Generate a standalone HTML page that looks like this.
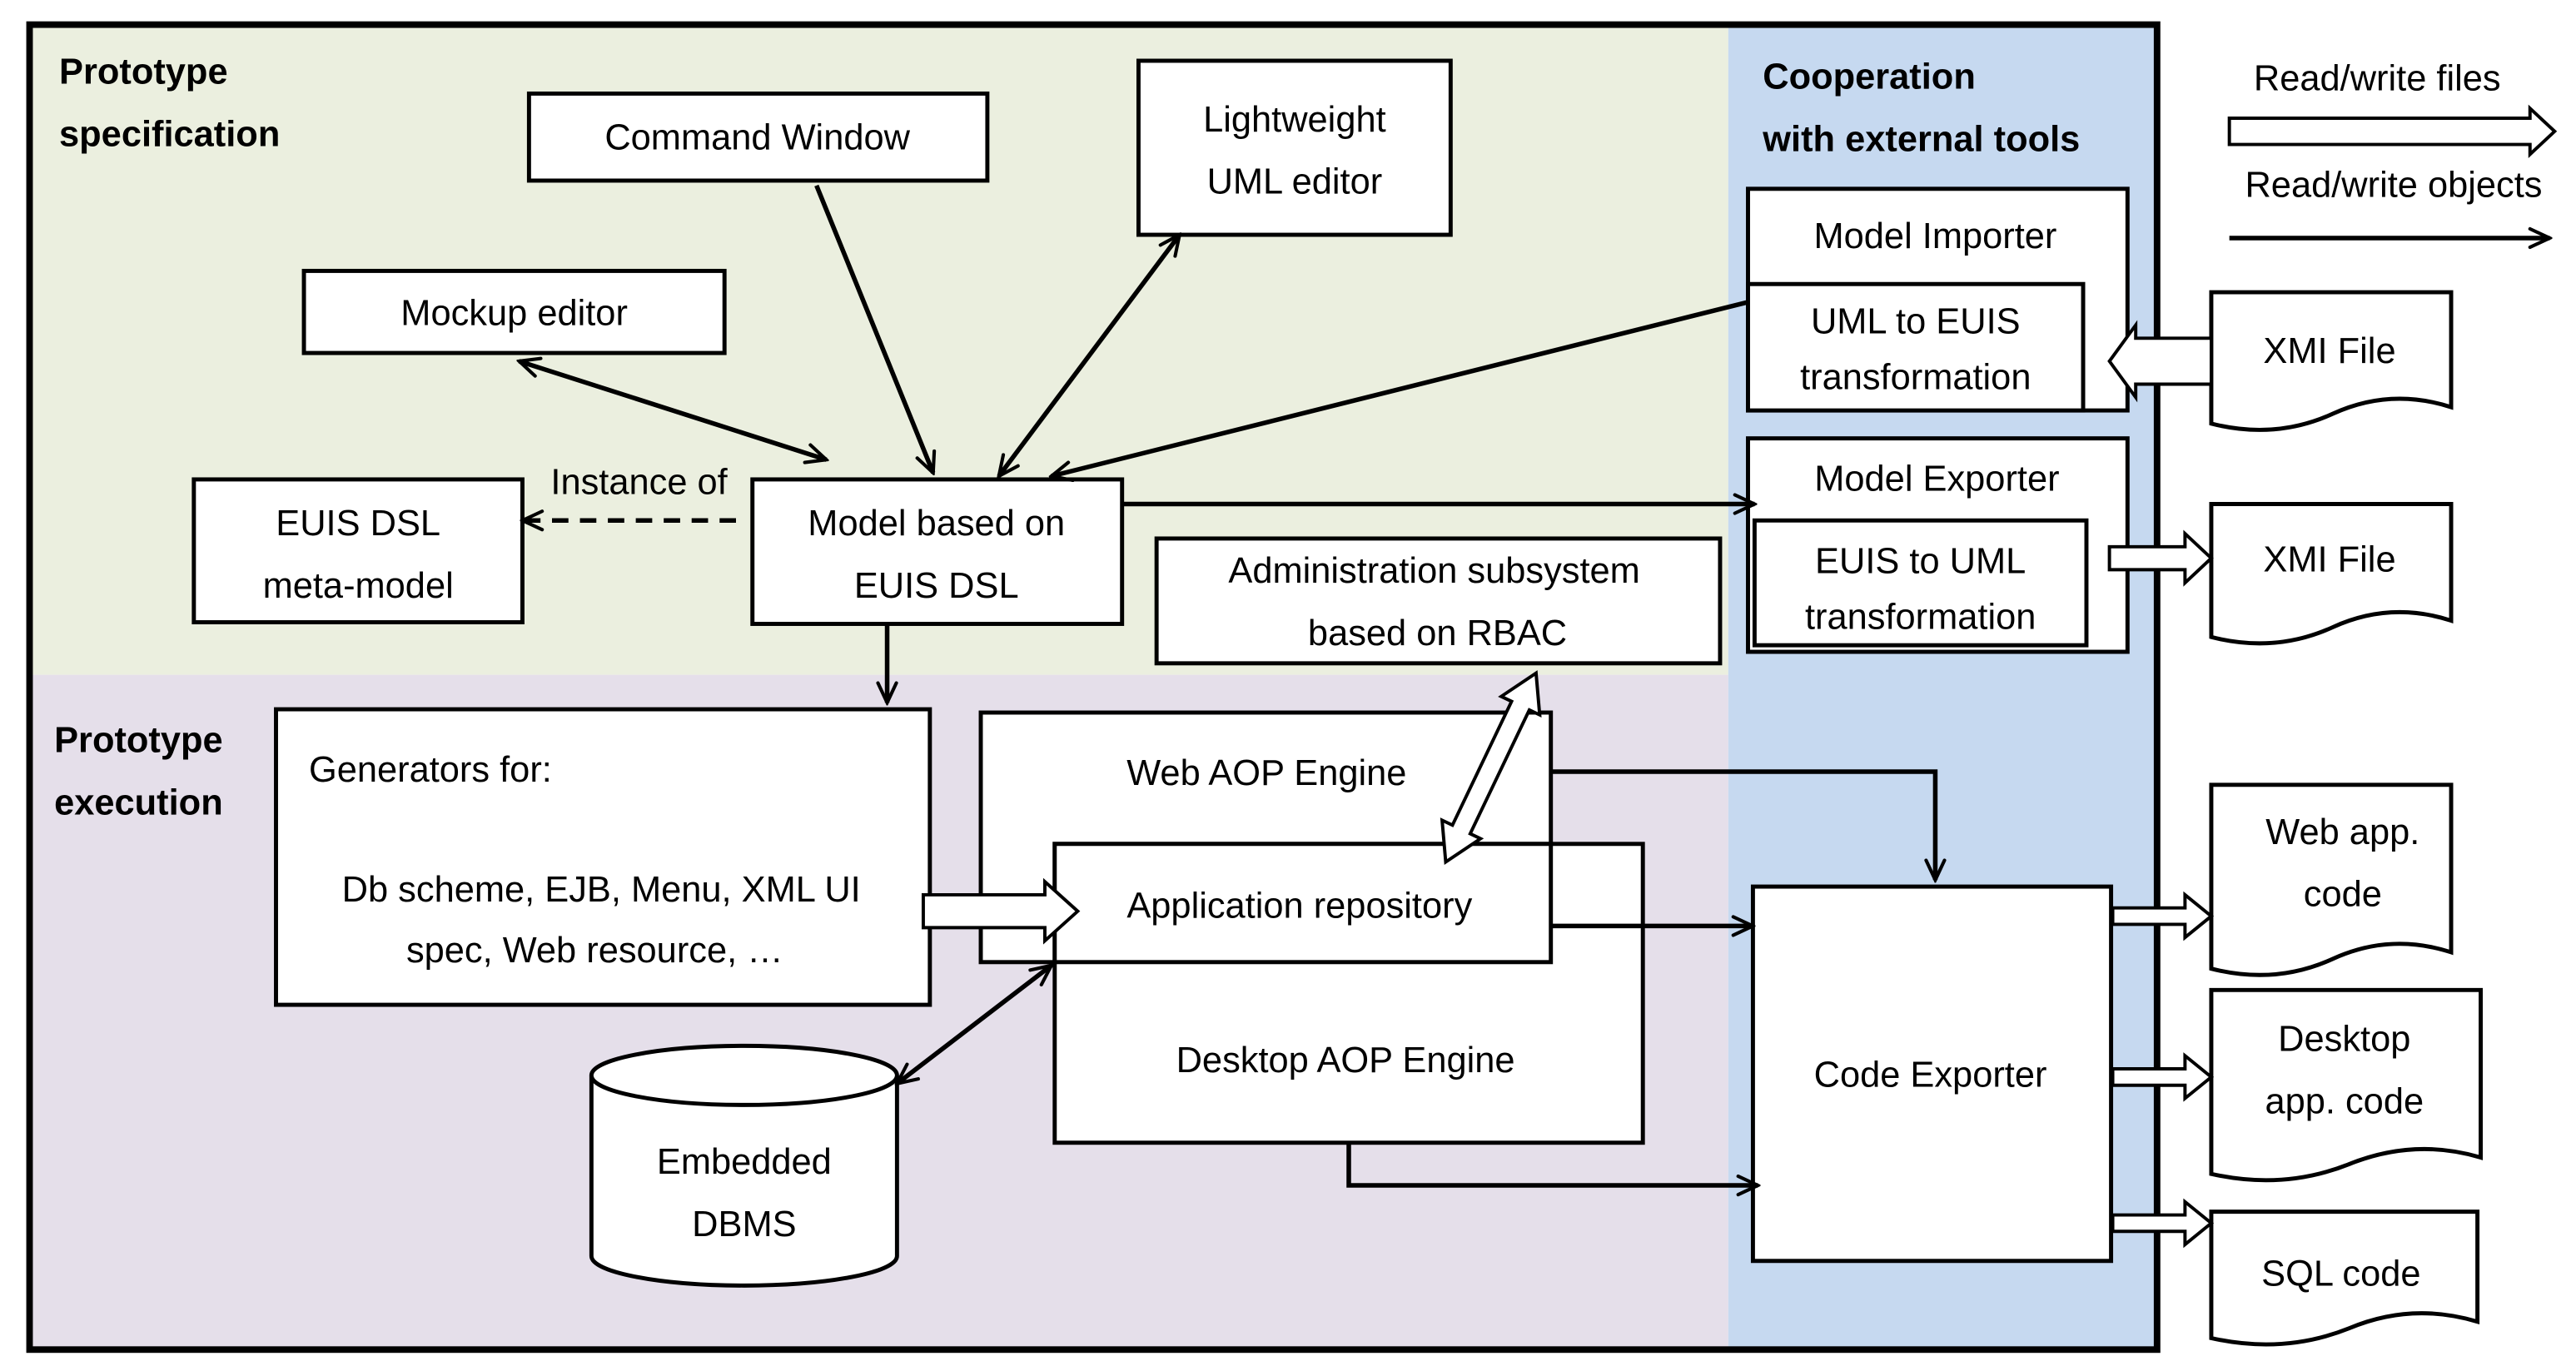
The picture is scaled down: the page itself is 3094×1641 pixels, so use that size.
<!DOCTYPE html>
<html><head><style>html,body{margin:0;padding:0;background:#fff}svg{display:block}</style></head><body>
<svg width="3094" height="1641" viewBox="0 0 1568 832" preserveAspectRatio="none" xmlns="http://www.w3.org/2000/svg" font-family="Liberation Sans, sans-serif" font-size="22">
<defs>
<marker id="a" viewBox="0 0 20 20" refX="18" refY="10" markerWidth="16" markerHeight="16" markerUnits="userSpaceOnUse" orient="auto-start-reverse"><path d="M3,3 L18,10 L3,17" fill="none" stroke="#000" stroke-width="2.6" stroke-linecap="round"/></marker>
</defs>
<rect x="20" y="17" width="1032" height="394" fill="#ebefdf"/>
<rect x="20" y="411" width="1032" height="410" fill="#e5dfea"/>
<rect x="1052" y="17" width="260" height="804" fill="#c6d9f0"/>
<rect x="18" y="15" width="1295" height="807" fill="none" stroke="#000" stroke-width="4"/>
<g font-weight="bold" font-size="22">
<text x="36" y="51">Prototype</text><text x="36" y="89">specification</text>
<text x="33" y="458">Prototype</text><text x="33" y="496">execution</text>
<text x="1073" y="54">Cooperation</text><text x="1073" y="92">with external tools</text>
</g>
<g fill="#fff" stroke="#000" stroke-width="2.5">
<rect x="322" y="57" width="279" height="53"/>
<rect x="693" y="37" width="190" height="106"/>
<rect x="185" y="165" width="256" height="50"/>
<rect x="118" y="292" width="200" height="87"/>
<rect x="458" y="292" width="225" height="88"/>
<rect x="704" y="328" width="343" height="76"/>
<rect x="1064" y="115" width="231" height="135"/>
<rect x="1064" y="173" width="204" height="77"/>
<rect x="1064" y="267" width="231" height="130"/>
<rect x="1068" y="317" width="202" height="76"/>
<rect x="168" y="432" width="398" height="180"/>
<rect x="597" y="434" width="347" height="152"/>
<rect x="642" y="514" width="358" height="182"/>
<rect x="642" y="514" width="302" height="72"/>
<rect x="1067" y="540" width="218" height="228"/>
<path d="M360,655 L360,765 A93,18 0 0 0 546,765 L546,655"/>
<ellipse cx="453" cy="655" rx="93" ry="18"/>
<path d="M1346,178 H1492 V248 Q1455,236 1420,252 Q1385,268 1346,258 Z"/>
<path d="M1346,307 H1492 V378 Q1455,366 1420,382 Q1385,398 1346,388 Z"/>
<path d="M1346,478 H1492 V580 Q1455,568 1420,584 Q1385,600 1346,590 Z"/>
<path d="M1346,603 H1510 V705 Q1470,693 1430,709 Q1390,725 1346,715 Z"/>
<path d="M1346,738 H1508 V805 Q1468,793 1430,809 Q1390,825 1346,815 Z"/>
</g>
<g text-anchor="middle" font-size="22">
<text x="461" y="91">Command Window</text>
<text x="788" y="80">Lightweight</text><text x="788" y="118">UML editor</text>
<text x="313" y="198">Mockup editor</text>
<text x="218" y="326">EUIS DSL</text><text x="218" y="364">meta-model</text>
<text x="570" y="326">Model based on</text><text x="570" y="364">EUIS DSL</text>
<text x="389" y="301">Instance of</text>
<text x="873" y="355">Administration subsystem</text><text x="875" y="393">based on RBAC</text>
<text x="1178" y="151">Model Importer</text>
<text x="1166" y="203">UML to EUIS</text><text x="1166" y="237">transformation</text>
<text x="1179" y="299">Model Exporter</text>
<text x="1169" y="349">EUIS to UML</text><text x="1169" y="383">transformation</text>
<text x="1418" y="221">XMI File</text><text x="1418" y="348">XMI File</text>
<text x="1426" y="514">Web app.</text><text x="1426" y="552">code</text>
<text x="1427" y="640">Desktop</text><text x="1427" y="678">app. code</text>
<text x="1425" y="783">SQL code</text>
<text x="771" y="478">Web AOP Engine</text>
<text x="791" y="559">Application repository</text>
<text x="819" y="653">Desktop AOP Engine</text>
<text x="1175" y="662">Code Exporter</text>
<text x="453" y="715">Embedded</text><text x="453" y="753">DBMS</text>
<text x="366" y="549">Db scheme, EJB, Menu, XML UI</text>
<text x="362" y="586">spec, Web resource, …</text>
<text x="1447" y="55">Read/write files</text>
<text x="1457" y="120">Read/write objects</text>
</g>
<text x="188" y="476" font-size="22">Generators for:</text>
<g stroke="#000" stroke-width="2.8" fill="none" marker-end="url(#a)">
<line x1="497" y1="113" x2="568" y2="288"/>
<line x1="718" y1="143" x2="608" y2="290" marker-start="url(#a)"/>
<line x1="316" y1="220" x2="503" y2="280" marker-start="url(#a)"/>
<line x1="1064" y1="184" x2="640" y2="290"/>
<line x1="683" y1="307" x2="1068" y2="307"/>
<line x1="448" y1="317" x2="318" y2="317" stroke-dasharray="10,7"/>
<line x1="540" y1="380" x2="540" y2="428"/>
<line x1="1357" y1="145" x2="1552" y2="145"/>
<polyline points="944,470 1178,470 1178,536"/>
<polyline points="944,564 1067,564"/>
<polyline points="821,696 821,722 1070,722"/>
<line x1="640" y1="588" x2="546" y2="660" marker-start="url(#a)"/>
</g>
<g fill="#fff" stroke="#000" stroke-width="2">
<path d="M1357,72 H1540 V66 L1555,80 L1540,94 V88 H1357 Z"/>
<path d="M562,545 H636 V537 L656,555 L636,573 V565 H562 Z"/>
<path d="M1346,206 H1300 V198 L1284,220 L1300,242 V234 H1346 Z"/>
<path d="M1284,333 H1330 V325 L1346,340 L1330,355 V347 H1284 Z"/>
<path d="M1286,553 H1330 V545 L1346,558 L1330,571 V563 H1286 Z"/>
<path d="M1286,651 H1330 V643 L1346,656 L1330,669 V661 H1286 Z"/>
<path d="M1286,740 H1330 V732 L1346,745 L1330,758 V750 H1286 Z"/>
<path d="M935,410 L937.2,435.4 L930.9,432.4 L894.9,507.8 L901.2,510.8 L880,525 L877.8,499.6 L884.1,502.6 L920.1,427.2 L913.8,424.2 Z"/>
</g>
</svg>
</body></html>
